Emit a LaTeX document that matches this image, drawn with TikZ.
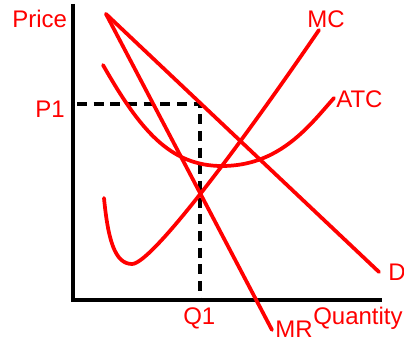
\documentclass[tikz,border=0pt]{standalone}
\usepackage{fontspec}
\setmainfont{Liberation Sans}
\usepackage{xcolor}
\definecolor{econred}{HTML}{FF0000}
\usepackage{tikz}
\usetikzlibrary{positioning,calc}
\tikzset{
  econaxis/.style={draw=black,line width=2.6pt,line join=miter},
  econcurve/.style={draw=econred,line width=2.8pt,line cap=round},
  econdash/.style={draw=black,line width=2.6pt,dash pattern=on 7.5pt off 5pt},
  econlabel/.style={text=econred,font=\fontsize{18}{20}\selectfont,inner sep=0pt,anchor=base west},
}
\begin{document}
\begin{tikzpicture}[x=0.75pt,y=-0.75pt]
\useasboundingbox (0,0) rectangle (404,342);
% axes
\coordinate (top) at (73,4);\coordinate (orig) at (73,300);\coordinate (right) at (382,300);
\draw[econaxis](top)--(orig)--(right);
% labels
\node[econlabel] (price) at (12,28){Price};
\node[econlabel] (p1) at (35,118){P1};
\node[econlabel] (q1) at (183,325){Q1};
\node[econlabel] (mrl) at (275,338){MR};
\node[econlabel] (qty) at (313,325){Quantity};
\node[econlabel] (dl) at (388,281){D};
\node[econlabel] (mcl) at (307,28){MC};
\node[econlabel] (atcl) at (336,108){ATC};
% dashed guide
\coordinate (pstart) at (77,104);\coordinate (pq) at (200,104);\coordinate (qend) at (200,300);
\draw[econdash](pstart)--(pq)--(qend);
% demand and marginal revenue
\coordinate (dtop) at (106,14);\coordinate (dend) at (379,272);\coordinate (mrend) at (272,330);
\draw[econcurve](dtop)--(dend);
\draw[econcurve](dtop)--(mrend);
% cost curves
\coordinate (mcstart) at (104,198);\coordinate (mcmin) at (132,264);\coordinate (mcend) at (319,30);
\draw[econcurve](mcstart) .. controls (108,240) and (115,264) .. (mcmin)
  .. controls (150,264) and (230,160) .. (mcend);
\coordinate (atcstart) at (103,65);\coordinate (atcmin) at (222,166);\coordinate (atcend) at (334,98);
\draw[econcurve](atcstart) .. controls (140,130) and (170,166) .. (atcmin)
  .. controls (280,166) and (310,125) .. (atcend);
\end{tikzpicture}
\end{document}
